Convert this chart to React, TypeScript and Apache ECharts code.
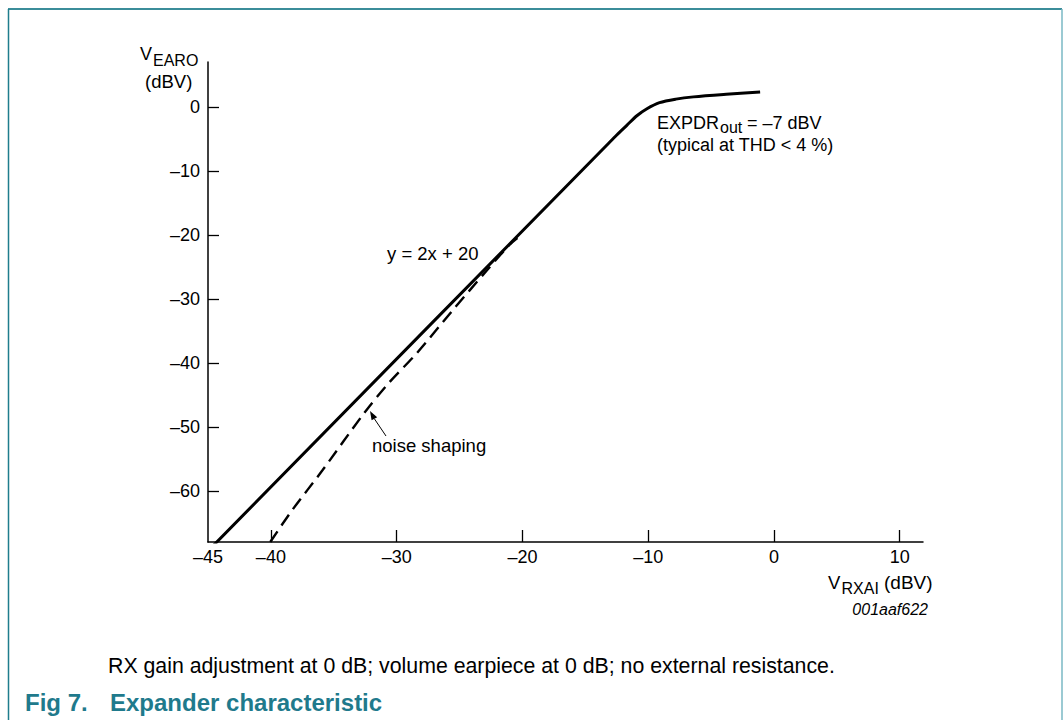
import React, { useEffect, useRef } from 'react';
import * as echarts from 'echarts';

// ---- data ----
const xTickValues = [-40, -30, -20, -10, 0, 10];
const xLabelValues = [-45, -40, -30, -20, -10, 0, 10];
const yTickValues = [0, -10, -20, -30, -40, -50, -60];

// solid curve (about y = 2x + 20 until the knee, then saturating)
const expanderX = [-45, -13.3, -12.5, -11.7, -10.9, -10.1, -9.1, -7.8, -6.4, -3.8, -1.1];
const expanderY = [-69.4, -6, -4.4, -2.9, -1.4, -0.3, 0.65, 1.2, 1.55, 1.95, 2.3];

// dashed curve (noise shaping)
const noiseX = [-40.05, -38.3, -35.9, -32.6, -30.65, -28.4, -25.55, -22.8, -21.05, -20.4];
const noiseY = [-68, -63, -56.8, -47.9, -43.2, -38.5, -31.8, -25.5, -21.6, -20.5];

const FONT = '"Liberation Sans", Arial, Helvetica, sans-serif';
const TEAL = '#1f7a8c';

const fmt = (v: number) => String(v).replace('-', '\u2013');

const txt = (x: number, y: number, text: string, size: number, extra: any = {}) => ({
  type: 'text',
  x,
  y,
  silent: true,
  style: {
    text,
    fontSize: size,
    fontFamily: FONT,
    fill: '#000',
    textAlign: 'left',
    textVerticalAlign: 'middle',
    ...extra,
  },
});

export default function App() {
  const ref = useRef<HTMLDivElement>(null);
  useEffect(() => {
    if (!ref.current) return;
    const chart = echarts.init(ref.current, null, { renderer: 'svg' });
    const option: any = {
      animation: false,
      backgroundColor: '#fff',
      grid: { left: 208, right: 140, top: 62, bottom: 178, containLabel: false },
      xAxis: {
        type: 'value',
        min: -45,
        max: 11.85,
        axisLine: { onZero: false, lineStyle: { color: '#000', width: 1.5 } },
        axisTick: {
          show: true,
          inside: true,
          length: 12,
          customValues: xTickValues,
          lineStyle: { color: '#000', width: 1.3 },
        },
        axisLabel: {
          customValues: xLabelValues,
          formatter: fmt,
          fontSize: 18,
          fontFamily: FONT,
          color: '#000',
          margin: 6,
        },
        splitLine: { show: false },
      },
      yAxis: {
        type: 'value',
        min: -68,
        max: 7,
        axisLine: { onZero: false, lineStyle: { color: '#000', width: 1.5 } },
        axisTick: {
          show: true,
          inside: true,
          length: 11,
          customValues: yTickValues,
          lineStyle: { color: '#000', width: 1.3 },
        },
        axisLabel: {
          customValues: yTickValues,
          formatter: fmt,
          fontSize: 18,
          fontFamily: FONT,
          color: '#000',
          margin: 8,
        },
        splitLine: { show: false },
      },
      series: [
        {
          type: 'line',
          data: expanderX.map((x, i) => [x, expanderY[i]]),
          showSymbol: false,
          smooth: 0.3,
          lineStyle: { color: '#000', width: 3 },
          z: 3,
        },
        {
          type: 'line',
          data: noiseX.map((x, i) => [x, noiseY[i]]),
          showSymbol: false,
          smooth: 0.3,
          lineStyle: { color: '#000', width: 2.4, type: [13, 7] },
          z: 2,
        },
      ],
      graphic: [
        // frame
        { type: 'line', shape: { x1: 8, y1: 9, x2: 1062, y2: 9 }, style: { stroke: '#3b8d9a', lineWidth: 2 } },
        { type: 'line', shape: { x1: 8.5, y1: 9, x2: 8.5, y2: 720 }, style: { stroke: '#1f7d8d', lineWidth: 1.5 } },
        { type: 'line', shape: { x1: 1062, y1: 9, x2: 1062, y2: 720 }, style: { stroke: '#7ab9c4', lineWidth: 1.5 } },
        // y axis name
        txt(140, 54, 'V', 18),
        txt(153, 60, 'EARO', 16),
        txt(145, 81, '(dBV)', 18.5),
        // x axis name
        txt(828, 582, 'V', 18.5),
        txt(841.5, 588, 'RXAI', 16),
        txt(884, 582, '(dBV)', 19),
        txt(928, 609, '001aaf622', 16, { textAlign: 'right', fontStyle: 'italic' }),
        // annotations
        txt(657, 122.5, 'EXPDR', 18),
        txt(720, 127.5, 'out', 16),
        txt(747, 122.5, '= \u20137 dBV', 18),
        txt(657, 145, '(typical at THD < 4 %)', 18),
        txt(387, 253, 'y = 2x + 20', 18.5),
        txt(372, 445, 'noise shaping', 18.5),
        // arrow
        { type: 'line', shape: { x1: 386, y1: 436, x2: 374.4, y2: 418.8 }, style: { stroke: '#000', lineWidth: 1 } },
        {
          type: 'polygon',
          shape: { points: [[370, 411], [377.2, 417.3], [371.6, 420.3]] },
          style: { fill: '#000' },
        },
        // captions
        txt(108, 665.5, 'RX gain adjustment at 0 dB; volume earpiece at 0 dB; no external resistance.', 21.3),
        txt(25, 702, 'Fig 7.', 24, { fill: TEAL, fontWeight: 'bold' }),
        txt(110, 702, 'Expander characteristic', 24, { fill: TEAL, fontWeight: 'bold' }),
      ],
    };
    chart.setOption(option);
    return () => chart.dispose();
  }, []);
  return (
    <div
      ref={ref}
      style={{ position: 'absolute', left: 0, top: 0, width: 1063, height: 720 }}
    />
  );
}
